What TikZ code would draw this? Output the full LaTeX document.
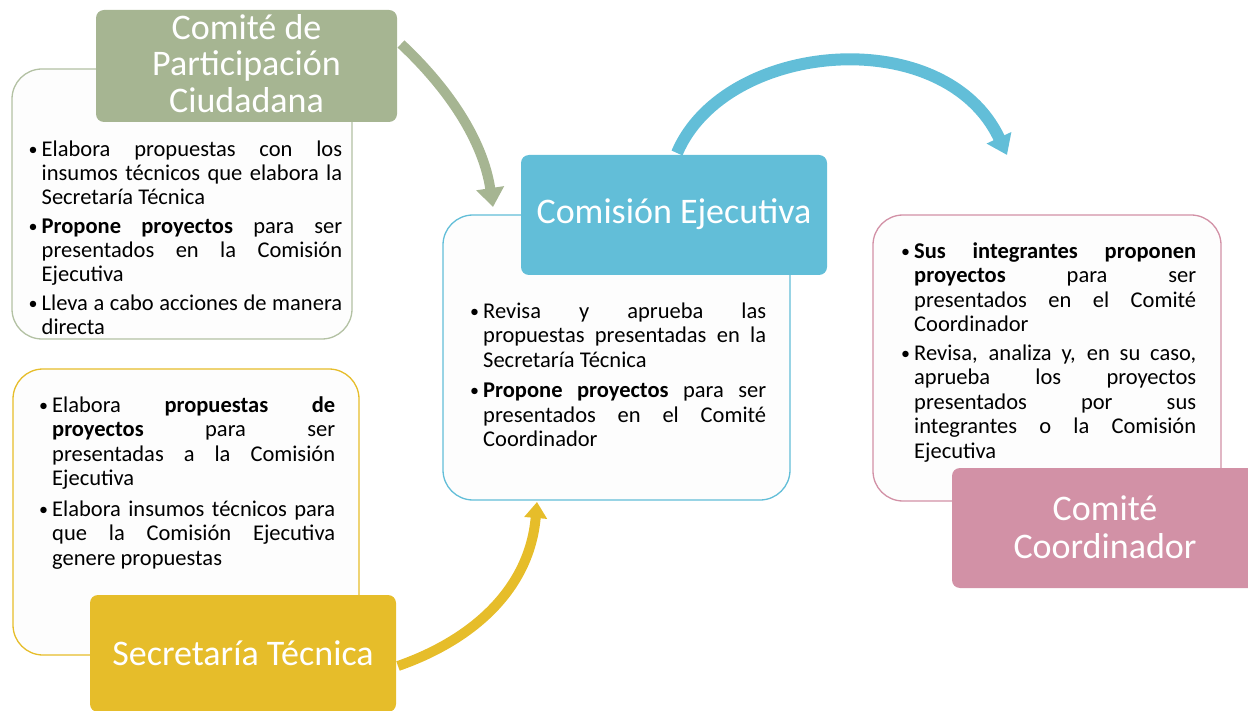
\documentclass[tikz,border=0pt]{standalone}
\usepackage{fontspec}
\setmainfont{Carlito}
\usetikzlibrary{arrows.meta}
\definecolor{cgreen}{HTML}{A6B592}
\definecolor{cgreenl}{HTML}{B3C1A3}
\definecolor{cyellow}{HTML}{E6BD2A}
\definecolor{cblue}{HTML}{62BED8}
\definecolor{cpink}{HTML}{D291A6}
\definecolor{boxfill}{HTML}{FDFDFD}
\newcommand\bodyset{\fontsize{22.5}{24.6}\selectfont\hyphenpenalty=10000\relax\exhyphenpenalty=10000\relax\tolerance=10000\relax}
% one bullet item: #1 = width of the text column, #2 = text
\newcommand\bitem[2]{\hbox{\hbox to 12pt{\vrule height 18pt depth 0pt width 0pt\relax\hskip-1pt\raisebox{1pt}{\fontsize{18}{18}\selectfont •}\hfil}\vtop{\hsize=#1\relax\parindent=0pt\relax\leftskip=0pt\relax\rightskip=0pt\relax\noindent #2\vrule height 0pt depth 6.6pt width 0pt\relax\par}}}
\newcommand\gap[1][4.5pt]{\vskip #1\relax}
\tikzset{
  titlebox/.style={fill=#1, draw=none, rounded corners=8pt, inner sep=0pt},
  outlinebox/.style={draw=#1, line width=1.3pt, fill=boxfill, rounded corners=30pt},
  titletext/.style={text=white, font=\fontsize{36}{38}\selectfont, align=center, inner sep=0pt},
  bodytext/.style={anchor=north west, inner sep=0pt, font=\bodyset}
}
\begin{document}
\begin{tikzpicture}[x=1pt,y=-1pt]
\useasboundingbox (0,0) rectangle (1248,711);
% outline boxes
\draw[outlinebox=cgreenl] (12,69) rectangle (352,339);
\draw[outlinebox=cyellow] (13,369) rectangle (359,655);
\draw[outlinebox=cblue] (443,215) rectangle (790,500);
\draw[outlinebox=cpink] (873,215) rectangle (1221,501);
% title boxes
\node[titlebox=cgreen, minimum width=301pt, minimum height=112pt] (pc) at (246.5,66) {};
\node[titlebox=cyellow, minimum width=306pt, minimum height=117pt] (st) at (243,653.5) {};
\node[titlebox=cblue, minimum width=306pt, minimum height=120pt] (ce) at (674,215) {};
\node[titlebox=cpink, minimum width=306pt, minimum height=120pt] (cc) at (1105,528) {};
% title texts
\node[titletext] (pct) at (246.5,63.5) {Comité de\\[-1.5pt]Participación\\[-1.5pt]Ciudadana};
\node[titletext] (stt) at (243,653) {Secretaría Técnica};
\node[titletext] (cet) at (674,214) {Comisión Ejecutiva};
\node[titletext] (cct) at (1105,527) {Comité\\Coordinador};
% body texts
\node[bodytext] (pcb) at (29.5,138) {\baselineskip=24pt\relax\vtop{%
\bitem{300.5pt}{Elabora propuestas con los \linebreak insumos técnicos que elabora la \linebreak Secretaría Técnica}\gap[4pt]
\bitem{300.5pt}{\textbf{Propone proyectos} para ser \linebreak presentados en la Comisión \linebreak Ejecutiva}\gap[3pt]
\bitem{300.5pt}{Lleva a cabo acciones de manera \linebreak directa}}};
\node[bodytext] (stb) at (40,394) {\vtop{%
\bitem{283pt}{Elabora \textbf{propuestas de} \linebreak \textbf{proyectos} para ser \linebreak presentadas a la Comisión \linebreak Ejecutiva}\gap
\bitem{283pt}{Elabora insumos técnicos para \linebreak que la Comisión Ejecutiva \linebreak genere propuestas}}};
\node[bodytext] (ceb) at (471,300) {\vtop{%
\bitem{283pt}{Revisa y aprueba las \linebreak propuestas presentadas en la \linebreak Secretaría Técnica}\gap
\bitem{283pt}{\textbf{Propone proyectos} para ser \linebreak presentados en el Comité \linebreak Coordinador}}};
\node[bodytext] (ccb) at (902,240) {\vtop{%
\bitem{282pt}{\textbf{Sus integrantes proponen} \linebreak \textbf{proyectos} para ser \linebreak presentados en el Comité \linebreak Coordinador}\gap[2.5pt]
\bitem{282pt}{Revisa, analiza y, en su caso, \linebreak aprueba los proyectos \linebreak presentados por sus \linebreak integrantes o la Comisión \linebreak Ejecutiva}}};
% arrows
\coordinate (ga) at (401,44);
\coordinate (gb) at (493,207);
\coordinate (ba) at (677,153);
\coordinate (bb) at (1007,155);
\coordinate (ya) at (398,666);
\coordinate (yb) at (537,502);
\draw[cgreen, line width=10pt, -{Triangle[width=27pt,length=19pt]}] (ga) .. controls (448,88) and (483,140) .. (gb);
\draw[cblue, line width=12pt, -{Triangle[width=26pt,length=19pt]}] (ba) .. controls (725,40) and (945,22) .. (bb);
\draw[cyellow, line width=10pt, -{Triangle[width=22pt,length=16pt]}] (ya) .. controls (478,638) and (530,585) .. (yb);
\end{tikzpicture}
\end{document}
